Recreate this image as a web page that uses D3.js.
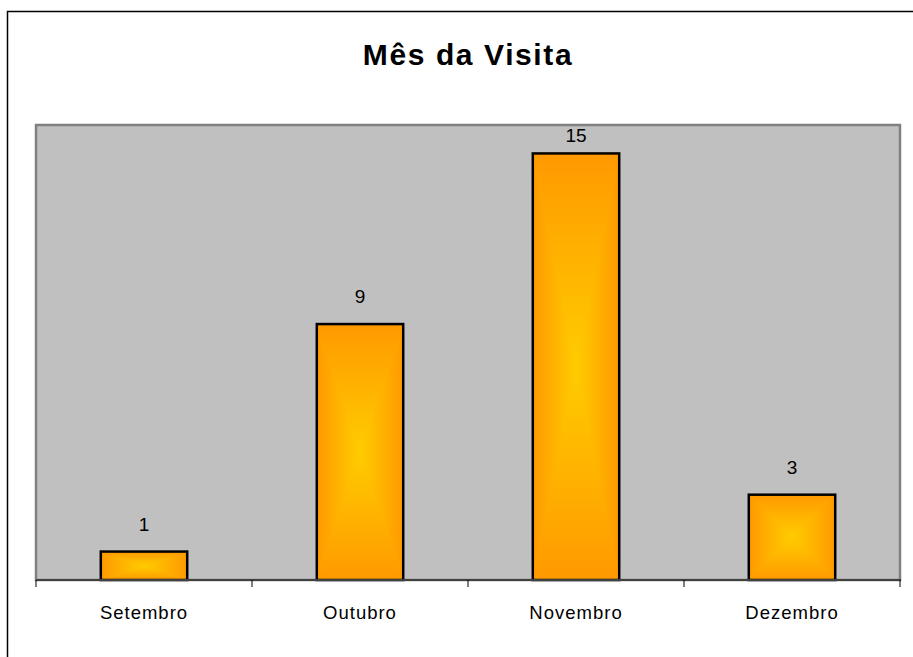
<!DOCTYPE html>
<html>
<head>
<meta charset="utf-8">
<script src="https://cdn.jsdelivr.net/npm/d3@7"></script>
<style>
  html, body { margin: 0; padding: 0; background: #fff; }
  svg { display: block; }
</style>
</head>
<body>
<svg id="chart" width="913" height="657"></svg>
<script>
const categories = ["Setembro", "Outubro", "Novembro", "Dezembro"];
const values = [1, 9, 15, 3];
const title = "Mês da Visita";

const svg = d3.select("#chart");
const W = 913, H = 657;
const plot = { left: 36, right: 900, top: 125, bottom: 580 };

// outer frame (extends beyond canvas on right/bottom)
svg.append("rect")
  .attr("x", 7.5).attr("y", 11.5)
  .attr("width", W + 20).attr("height", H + 20)
  .attr("fill", "#fff").attr("stroke", "#000").attr("stroke-width", 1.5);

// title
svg.append("text")
  .attr("x", 468).attr("y", 65)
  .attr("text-anchor", "middle")
  .attr("font-family", "Liberation Sans, Arial, sans-serif")
  .attr("font-weight", "bold")
  .attr("font-size", 30)
  .attr("letter-spacing", 1.6)
  .text(title);

const x = d3.scaleBand().domain(categories).range([plot.left, plot.right]).paddingInner(0.6).paddingOuter(0.3);
const xTicks = d3.scaleBand().domain(categories).range([plot.left, plot.right]);
const y = d3.scaleLinear().domain([0, 16]).range([plot.bottom, plot.top]);

// plot area
svg.append("rect")
  .attr("x", plot.left).attr("y", plot.top)
  .attr("width", plot.right - plot.left).attr("height", plot.bottom - plot.top)
  .attr("fill", "#C0C0C0").attr("stroke", "#808080").attr("stroke-width", 2.5);

// gradients
const defs = svg.append("defs");
const grads = [
  { id: "gT", x1: 0, y1: 0, x2: 0, y2: 1 },
  { id: "gB", x1: 0, y1: 1, x2: 0, y2: 0 },
  { id: "gL", x1: 0, y1: 0, x2: 1, y2: 0 },
  { id: "gR", x1: 1, y1: 0, x2: 0, y2: 0 }
];
grads.forEach(g => {
  const lg = defs.append("linearGradient").attr("id", g.id)
    .attr("x1", g.x1).attr("y1", g.y1).attr("x2", g.x2).attr("y2", g.y2);
  lg.append("stop").attr("offset", "0%").attr("stop-color", "#FF9900");
  lg.append("stop").attr("offset", "100%").attr("stop-color", "#FFCC00");
});

const bars = svg.append("g").selectAll("g.bar")
  .data(categories.map((c, i) => ({ c, v: values[i] })))
  .join("g").attr("class", "bar");

bars.each(function(d) {
  const g = d3.select(this);
  const x0 = x(d.c), x1 = x0 + x.bandwidth();
  const y0 = y(d.v), y1 = y(0);
  const cx = (x0 + x1) / 2, cy = (y0 + y1) / 2;
  g.append("rect").attr("x", x0).attr("y", y0).attr("width", x1 - x0).attr("height", y1 - y0).attr("fill", "#FFB300");
  const tri = (pts, id) => g.append("path")
    .attr("d", "M" + pts.map(p => p.join(",")).join("L") + "Z")
    .attr("fill", `url(#${id})`).attr("stroke", `url(#${id})`).attr("stroke-width", 0.5);
  tri([[x0, y0], [x1, y0], [cx, cy]], "gT");
  tri([[x0, y1], [x1, y1], [cx, cy]], "gB");
  tri([[x0, y0], [x0, y1], [cx, cy]], "gL");
  tri([[x1, y0], [x1, y1], [cx, cy]], "gR");
  g.append("rect").attr("x", x0).attr("y", y0).attr("width", x1 - x0).attr("height", y1 - y0)
    .attr("fill", "none").attr("stroke", "#000").attr("stroke-width", 2.5);
  g.append("text")
    .attr("x", cx).attr("y", Math.max(y0 - 21, plot.top + 17))
    .attr("text-anchor", "middle")
    .attr("font-family", "Liberation Sans, Arial, sans-serif")
    .attr("font-size", 19)
    .text(d.v);
});

// x axis
const axis = svg.append("g").attr("transform", `translate(0,${plot.bottom})`);
axis.append("line").attr("x1", plot.left).attr("x2", plot.right + 1).attr("y1", 0).attr("y2", 0)
  .attr("stroke", "#404040").attr("stroke-width", 2);
const tickPos = categories.map(c => xTicks(c)).concat([plot.right]);
axis.selectAll("line.tick").data(tickPos).join("line").attr("class", "tick")
  .attr("x1", d => d).attr("x2", d => d).attr("y1", 0).attr("y2", 7)
  .attr("stroke", "#000").attr("stroke-width", 1);
axis.selectAll("text").data(categories).join("text")
  .attr("x", d => xTicks(d) + xTicks.bandwidth() / 2)
  .attr("y", 39)
  .attr("text-anchor", "middle")
  .attr("font-family", "Liberation Sans, Arial, sans-serif")
  .attr("font-size", 18.5)
  .attr("letter-spacing", 1)
  .text(d => d);
</script>
</body>
</html>
